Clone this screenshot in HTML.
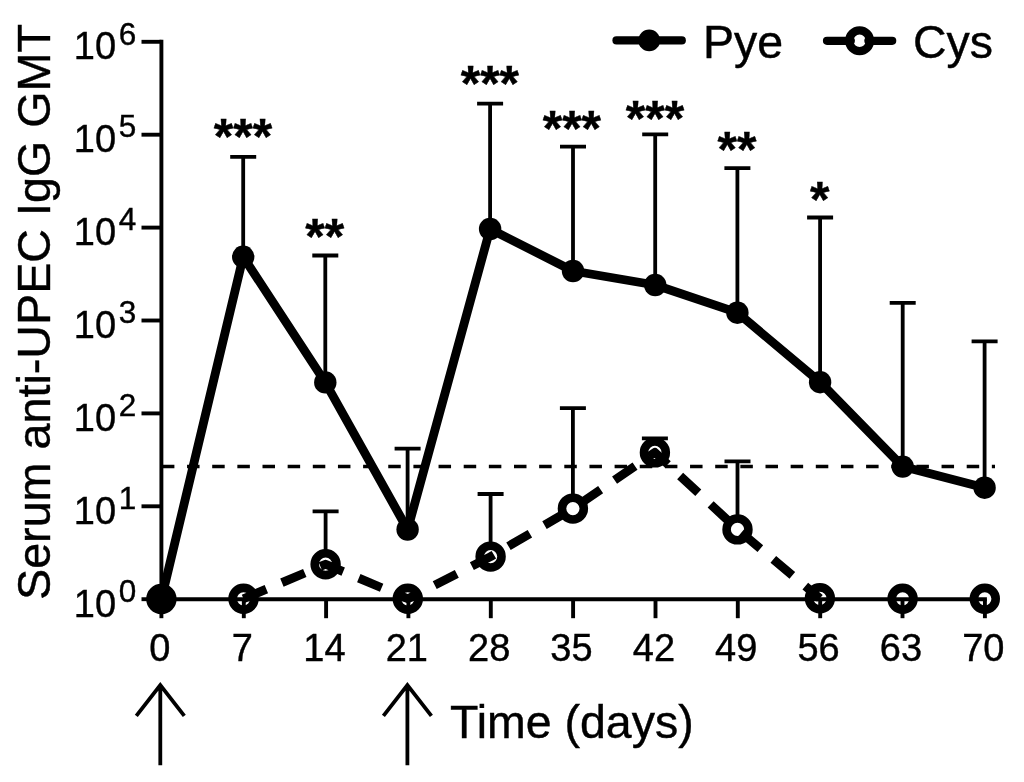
<!DOCTYPE html>
<html lang="en"><head><meta charset="utf-8"><title>Serum anti-UPEC IgG GMT</title>
<style>html,body{margin:0;padding:0;background:#fff;}body{width:1024px;height:782px;overflow:hidden;}svg{display:block;}text{font-family:"Liberation Sans", Arial, Helvetica, sans-serif;fill:#000;stroke:#000;stroke-width:.4px;}</style>
</head><body>
<svg width="1024" height="782" viewBox="0 0 1024 782">
<rect width="1024" height="782" fill="#fff"/>
<line x1="161.9" y1="466.5" x2="995" y2="466.5" stroke="#000" stroke-width="3.3" stroke-dasharray="12.5 12.65"/>
<g stroke="#000" stroke-width="3.8" fill="none">
<path d="M243.2 256.8V156.8M230.2 156.8H256.2"/>
<path d="M325.3 382.4V255.5M312.3 255.5H338.3"/>
<path d="M407.6 529.5V448.6M394.6 448.6H420.6"/>
<path d="M490.1 229.0V103.7M477.1 103.7H503.1"/>
<path d="M573.0 271.0V146.7M560.0 146.7H586.0"/>
<path d="M655.2 285.0V134.4M642.2 134.4H668.2"/>
<path d="M737.4 312.7V168.2M724.4 168.2H750.4"/>
<path d="M820.1 382.2V217.5M807.1 217.5H833.1"/>
<path d="M902.7 466.6V302.9M889.7 302.9H915.7"/>
<path d="M984.6 487.7V341.4M971.6 341.4H997.6"/>
<path d="M325.6 554.2V511.3M312.6 511.3H338.6"/>
<path d="M490.6 546.6V494.0M477.6 494.0H503.6"/>
<path d="M572.9 498.6V408.1M559.9 408.1H585.9"/>
<path d="M654.9 442.4V438.3M641.9 438.3H667.9"/>
<path d="M737.5 519.4V461.3M724.5 461.3H750.5"/>
</g>
<polyline fill="none" stroke="#000" stroke-width="8.8" stroke-linejoin="round" points="161.4,599.0 243.2,256.8 325.3,382.4 407.6,529.5 490.1,229.0 573.0,271.0 655.2,285.0 737.4,312.7 820.1,382.2 902.7,466.6 984.6,487.7"/>
<polyline fill="none" stroke="#000" stroke-width="8.8" stroke-linejoin="round" stroke-dasharray="24.8 16.9" points="243.5,598.8 325.6,564.2 407.8,598.8 490.6,556.6 572.9,508.6 654.9,452.4 737.5,529.4 819.9,598.3"/>
<g stroke="#000" stroke-width="3.9" fill="none">
<path d="M161.4 39.8V601.2"/>
<path d="M159.5 599.2H986.9"/>
<path d="M141.5 599.2H161.4"/>
<path d="M141.5 506.3H161.4"/>
<path d="M141.5 413.4H161.4"/>
<path d="M141.5 320.5H161.4"/>
<path d="M141.5 227.6H161.4"/>
<path d="M141.5 134.7H161.4"/>
<path d="M141.5 41.8H161.4"/>
<path d="M161.4 599.2V618.2"/>
<path d="M243.8 599.2V618.2"/>
<path d="M326.1 599.2V618.2"/>
<path d="M408.4 599.2V618.2"/>
<path d="M490.8 599.2V618.2"/>
<path d="M573.1 599.2V618.2"/>
<path d="M655.5 599.2V618.2"/>
<path d="M737.8 599.2V618.2"/>
<path d="M820.2 599.2V618.2"/>
<path d="M902.5 599.2V618.2"/>
<path d="M984.9 599.2V618.2"/>
</g>
<circle cx="161.4" cy="599.0" r="11.2" fill="#000"/>
<circle cx="243.2" cy="256.8" r="11.2" fill="#000"/>
<circle cx="325.3" cy="382.4" r="11.2" fill="#000"/>
<circle cx="407.6" cy="529.5" r="11.2" fill="#000"/>
<circle cx="490.1" cy="229.0" r="11.2" fill="#000"/>
<circle cx="573.0" cy="271.0" r="11.2" fill="#000"/>
<circle cx="655.2" cy="285.0" r="11.2" fill="#000"/>
<circle cx="737.4" cy="312.7" r="11.2" fill="#000"/>
<circle cx="820.1" cy="382.2" r="11.2" fill="#000"/>
<circle cx="902.7" cy="466.6" r="11.2" fill="#000"/>
<circle cx="984.6" cy="487.7" r="11.2" fill="#000"/>
<circle cx="161.4" cy="599.0" r="10.9" fill="none" stroke="#000" stroke-width="8.6"/>
<circle cx="243.5" cy="598.8" r="10.9" fill="none" stroke="#000" stroke-width="8.6"/>
<circle cx="325.6" cy="564.2" r="10.9" fill="none" stroke="#000" stroke-width="8.6"/>
<circle cx="407.8" cy="598.8" r="10.9" fill="none" stroke="#000" stroke-width="8.6"/>
<circle cx="490.6" cy="556.6" r="10.9" fill="none" stroke="#000" stroke-width="8.6"/>
<circle cx="572.9" cy="508.6" r="10.9" fill="none" stroke="#000" stroke-width="8.6"/>
<circle cx="654.9" cy="452.4" r="10.9" fill="none" stroke="#000" stroke-width="8.6"/>
<circle cx="737.5" cy="529.4" r="10.9" fill="none" stroke="#000" stroke-width="8.6"/>
<circle cx="819.9" cy="598.3" r="10.9" fill="none" stroke="#000" stroke-width="8.6"/>
<circle cx="902.6" cy="598.8" r="10.9" fill="none" stroke="#000" stroke-width="8.6"/>
<circle cx="984.8" cy="598.8" r="10.9" fill="none" stroke="#000" stroke-width="8.6"/>
<text x="73.8" y="616.7" font-size="38">10</text>
<text x="118.8" y="601.9" font-size="31.5">0</text>
<text x="73.8" y="523.8" font-size="38">10</text>
<text x="118.8" y="509.0" font-size="31.5">1</text>
<text x="73.8" y="430.9" font-size="38">10</text>
<text x="118.8" y="416.1" font-size="31.5">2</text>
<text x="73.8" y="338.0" font-size="38">10</text>
<text x="118.8" y="323.2" font-size="31.5">3</text>
<text x="73.8" y="245.1" font-size="38">10</text>
<text x="118.8" y="230.3" font-size="31.5">4</text>
<text x="73.8" y="152.2" font-size="38">10</text>
<text x="118.8" y="137.4" font-size="31.5">5</text>
<text x="73.8" y="59.3" font-size="38">10</text>
<text x="118.8" y="44.5" font-size="31.5">6</text>
<text x="159.8" y="660.6" font-size="38" text-anchor="middle">0</text>
<text x="242.2" y="660.6" font-size="38" text-anchor="middle">7</text>
<text x="324.5" y="660.6" font-size="38" text-anchor="middle">14</text>
<text x="406.8" y="660.6" font-size="38" text-anchor="middle">21</text>
<text x="489.2" y="660.6" font-size="38" text-anchor="middle">28</text>
<text x="571.5" y="660.6" font-size="38" text-anchor="middle">35</text>
<text x="653.9" y="660.6" font-size="38" text-anchor="middle">42</text>
<text x="736.2" y="660.6" font-size="38" text-anchor="middle">49</text>
<text x="818.6" y="660.6" font-size="38" text-anchor="middle">56</text>
<text x="900.9" y="660.6" font-size="38" text-anchor="middle">63</text>
<text x="983.3" y="660.6" font-size="38" text-anchor="middle">70</text>
<text transform="translate(49.7 600) rotate(-90)" font-size="46.7">Serum anti-UPEC IgG GMT</text>
<text x="450" y="738" font-size="46.5">Time (days)</text>
<line x1="616.5" y1="40.4" x2="681.8" y2="40.4" stroke="#000" stroke-width="8.2" stroke-linecap="round"/>
<circle cx="649.2" cy="40.4" r="10.9" fill="#000"/>
<text x="702.9" y="58" font-size="46.5">Pye</text>
<line x1="827" y1="40.8" x2="850.8" y2="40.8" stroke="#000" stroke-width="8.2" stroke-linecap="round"/>
<line x1="868.4" y1="40.8" x2="892.2" y2="40.8" stroke="#000" stroke-width="8.2" stroke-linecap="round"/>
<circle cx="859.6" cy="40.8" r="10.4" fill="none" stroke="#000" stroke-width="8.3"/>
<text x="913" y="58" font-size="46.5">Cys</text>
<text x="243.0" y="154.4" font-size="50" font-weight="bold" stroke="none" text-anchor="middle">***</text>
<text x="324.8" y="253.6" font-size="50" font-weight="bold" stroke="none" text-anchor="middle">**</text>
<text x="489.9" y="100.5" font-size="50" font-weight="bold" stroke="none" text-anchor="middle">***</text>
<text x="571.9" y="145.8" font-size="50" font-weight="bold" stroke="none" text-anchor="middle">***</text>
<text x="655.0" y="135.6" font-size="50" font-weight="bold" stroke="none" text-anchor="middle">***</text>
<text x="736.9" y="167.3" font-size="50" font-weight="bold" stroke="none" text-anchor="middle">**</text>
<text x="819.8" y="217.3" font-size="50" font-weight="bold" stroke="none" text-anchor="middle">*</text>
<path d="M160.3 765.3V685M136.3 715.8L160.3 685L184.3 715.8" fill="none" stroke="#000" stroke-width="3.8" stroke-linejoin="miter"/>
<path d="M407.4 765.3V685M383.4 715.8L407.4 685L431.4 715.8" fill="none" stroke="#000" stroke-width="3.8" stroke-linejoin="miter"/>
</svg>
</body></html>
